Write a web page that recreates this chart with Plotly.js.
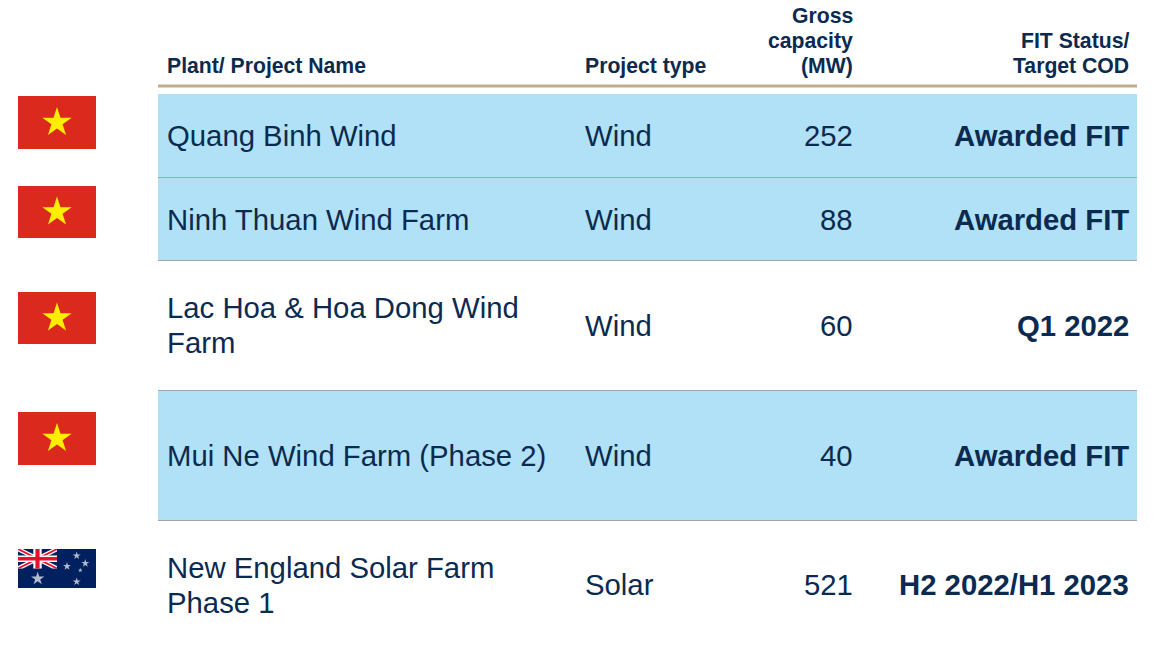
<!DOCTYPE html>
<html><head><meta charset="utf-8">
<script src="https://cdn.plot.ly/plotly-3.0.1.min.js"></script>
<style>html,body{margin:0;padding:0;background:#fff}#c{width:1155px;height:647px}</style>
</head><body><div id="c"></div>
<script>
// Data
const headers = ["Plant/ Project Name", "Project type", "Gross<br>capacity<br>(MW)", "FIT Status/<br>Target COD"];
const plantNames = ["Quang Binh Wind", "Ninh Thuan Wind Farm", "Lac Hoa &amp; Hoa Dong Wind<br>Farm", "Mui Ne Wind Farm (Phase 2)", "New England Solar Farm<br>Phase 1"];
const projectTypes = ["Wind", "Wind", "Wind", "Wind", "Solar"];
const capacityMW = [252, 88, 60, 40, 521];
const fitStatus = ["Awarded FIT", "Awarded FIT", "Q1 2022", "Awarded FIT", "H2 2022/H1 2023"];
const flags = ["VN", "VN", "VN", "VN", "AU"];

// Layout (pixel-space axes)
const rowEdges = [94, 178, 261, 390, 520, 650];
const rowShaded = [true, true, false, true, false];
const rowTextY = [135.3, 219.3, 325.3, 455.3, 584.3];
const nameTextY = [135.3, 219.3, 325.3, 455.3, 585.3];
const ruleY = [177.5, 260.5, 390.5, 520.5];
const flagTop = [96, 186, 292, 412, 549];
const flagBottom = [149, 238, 344, 465, 588];
const flagLeft = 18, flagRight = 96;
const colX = {name: 166, type: 584, cap: 854, fit: 1130};
const tableLeft = 158, tableRight = 1137;
const NAVY = "#0b2a4f", FONT = "Liberation Sans, Arial, sans-serif";

const shapes = [], annotations = [];
const rect = (x0, y0, x1, y1, c) => shapes.push({type: "rect", layer: "below", xref: "x", yref: "y", x0, y0, x1, y1, fillcolor: c, line: {width: 0}});
const hline = (y, c, w) => shapes.push({type: "line", layer: "below", xref: "x", yref: "y", x0: tableLeft, x1: tableRight, y0: y, y1: y, line: {color: c, width: w}});
const poly = (pts, c) => shapes.push({type: "path", layer: "below", xref: "x", yref: "y", fillcolor: c, line: {width: 0},
  path: "M" + pts.map(p => p.join(",")).join("L") + "Z"});
// Each line is its own annotation so that the leading can be tighter than Plotly's own.
const text = (x, y, t, anchor, size, bold, leading) => {
  const lines = t.split("<br>");
  lines.forEach((ln, k) => annotations.push({xref: "x", yref: "y", x,
    y: y + (k - (lines.length - 1) / 2) * (leading || 0),
    text: bold ? "<b>" + ln + "</b>" : ln,
    showarrow: false, xanchor: anchor, yanchor: "middle", align: anchor, borderpad: 0,
    font: {family: FONT, size, color: NAVY}}));
};

// Rows
plantNames.forEach((n, i) => {
  if (rowShaded[i]) rect(tableLeft, rowEdges[i], tableRight, rowEdges[i + 1], "#b1e1f6");
});
ruleY.forEach(y => hline(y, "#a0a6aa", 1));
hline(86, "#bfae8d", 3);

// Header
const HS = 21.2, HL = 25.5;
text(colX.name, 66.3, headers[0], "left", HS, true, HL);
text(colX.type, 66.3, headers[1], "left", HS, true, HL);
text(colX.cap, 40.5, headers[2], "right", HS, true, HL);
text(colX.fit, 53, headers[3], "right", HS, true, HL);

// Body
const BS = 29.3, BL = 35;
plantNames.forEach((n, i) => {
  text(colX.name, nameTextY[i], n, "left", BS, false, BL);
  text(colX.type, rowTextY[i], projectTypes[i], "left", BS, false, BL);
  text(colX.cap, rowTextY[i], String(capacityMW[i]), "right", BS, false, BL);
  text(colX.fit, rowTextY[i], fitStatus[i], "right", BS, true, BL);
});

// Flags
const vnX = [], vnY = [];
const auStarX = [], auStarY = [], auStarS = [];
flags.forEach((f, i) => {
  const t = flagTop[i], b = flagBottom[i];
  if (f === "VN") {
    rect(flagLeft, t, flagRight, b, "#dc291e");
    vnX.push((flagLeft + flagRight) / 2);
    vnY.push((t + b) / 2);
  } else {
    rect(flagLeft, t, flagRight, b, "#00205f");
    const cx0 = flagLeft, cx1 = (flagLeft + flagRight) / 2, cy0 = t, cy1 = (t + b) / 2;
    const mx = (cx0 + cx1) / 2, my = (cy0 + cy1) / 2;
    const d = 2.4, e = 4.8, dr = 1.0, er = 2.0;
    poly([[cx0, cy0], [cx0 + e, cy0], [cx1, cy1 - d], [cx1, cy1], [cx1 - e, cy1], [cx0, cy0 + d]], "#ffffff");
    poly([[cx1, cy0], [cx1, cy0 + d], [cx0 + e, cy1], [cx0, cy1], [cx0, cy1 - d], [cx1 - e, cy0]], "#ffffff");
    poly([[cx0, cy0], [cx0 + er, cy0], [cx1, cy1 - dr], [cx1, cy1], [cx1 - er, cy1], [cx0, cy0 + dr]], "#e8112d");
    poly([[cx1, cy0], [cx1, cy0 + dr], [cx0 + er, cy1], [cx0, cy1], [cx0, cy1 - dr], [cx1 - er, cy0]], "#e8112d");
    rect(mx - 4.2, cy0, mx + 4.2, cy1, "#ffffff");
    rect(cx0, my - 3.2, cx1, my + 3.2, "#ffffff");
    rect(mx - 2.1, cy0, mx + 2.1, cy1, "#e8112d");
    rect(cx0, my - 1.8, cx1, my + 1.8, "#e8112d");
    auStarX.push(37.7, 76.7, 67, 85.3, 80.3, 76.7);
    auStarY.push(578.7, 555.7, 566.3, 563.3, 570.3, 581.7);
    auStarS.push(10, 6, 6, 6, 3.5, 6);
  }
});

const traces = [
  {type: "scatter", mode: "markers", x: vnX, y: vnY, hoverinfo: "skip", cliponaxis: false,
   marker: {symbol: "star", size: 22, color: "#ffee00", line: {width: 0}}},
  {type: "scatter", mode: "markers", x: auStarX, y: auStarY, hoverinfo: "skip", cliponaxis: false,
   marker: {symbol: "star", size: auStarS, color: "#ffffff", line: {width: 0}}}
];

const hidden = {visible: false, fixedrange: true, showgrid: false, zeroline: false};
Plotly.newPlot("c", traces, {
  width: 1155, height: 647, showlegend: false,
  margin: {l: 0, r: 0, t: 0, b: 0},
  paper_bgcolor: "#ffffff", plot_bgcolor: "#ffffff",
  xaxis: {...hidden, range: [0, 1155]},
  yaxis: {...hidden, range: [647, 0]},
  shapes, annotations
}, {displayModeBar: false, staticPlot: true});
</script>
</body></html>
